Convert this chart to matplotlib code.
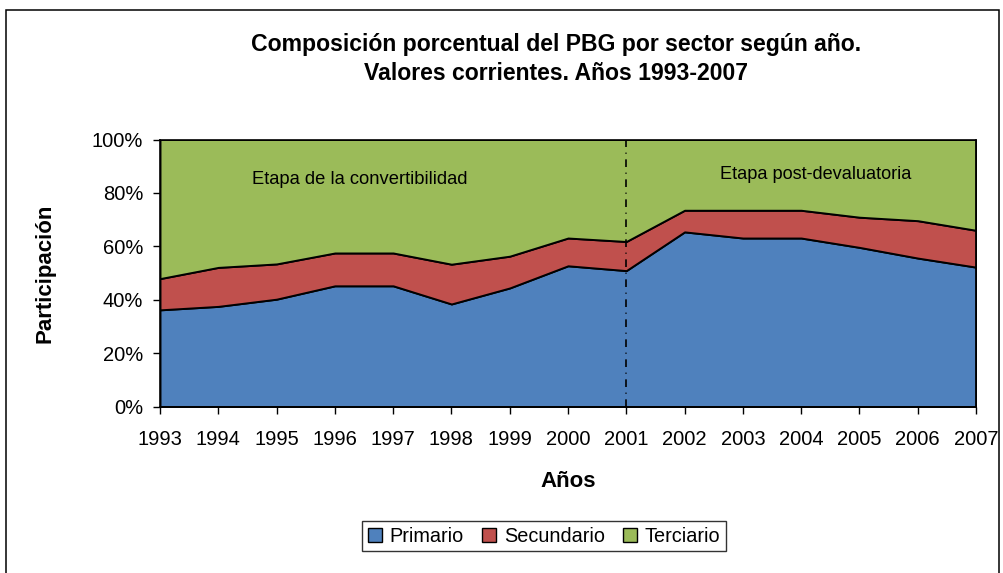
import matplotlib
matplotlib.use("Agg")
import matplotlib.pyplot as plt
from matplotlib.patches import Rectangle, Patch
from matplotlib.ticker import FuncFormatter

# values (percent of PBG)
years = [1993, 1994, 1995, 1996, 1997, 1998, 1999, 2000, 2001,
         2002, 2003, 2004, 2005, 2006, 2007]
primario = [36.2, 37.5, 40.2, 45.2, 45.2, 38.4, 44.4, 52.7, 50.9,
            65.4, 63.1, 63.1, 59.6, 55.6, 52.2]
secundario = [11.7, 14.6, 13.2, 12.3, 12.3, 14.9, 11.9, 10.4, 10.9,
              8.1, 10.4, 10.4, 11.3, 14.0, 13.8]
terciario = [round(100 - p - s, 1) for p, s in zip(primario, secundario)]

labels = ["Primario", "Secundario", "Terciario"]
colors = ["#4F81BD", "#C0504D", "#9BBB59"]

plt.rcParams['font.family'] = ['Liberation Sans', 'DejaVu Sans']

W, H = 1004, 573
fig = plt.figure(figsize=(W / 100, H / 100), dpi=100)

# outer chart border (bottom edge is cut off in the reference)
fig.patches.append(Rectangle((6 / W, -0.05), (999 - 6) / W, 1.05 - 10 / H,
                             transform=fig.transFigure, fill=False,
                             edgecolor="black", lw=1.1))

left, right, top, bottom = 160, 976, 139.5, 406.5
ax = fig.add_axes([left / W, 1 - bottom / H, (right - left) / W, (bottom - top) / H])

ax.stackplot(years, [v / 100 for v in primario], [v / 100 for v in secundario],
             [v / 100 for v in terciario], colors=colors, edgecolor="black", lw=1.4)

ax.axvline(2001, color="black", ls=(0, (4.6, 3.4, 0.6, 3.4)), lw=1.2)

ax.set_xlim(1993, 2007)
ax.set_ylim(0, 1)
ax.set_xticks(years)
ax.set_yticks([0, 0.2, 0.4, 0.6, 0.8, 1.0])
ax.yaxis.set_major_formatter(FuncFormatter(lambda v, p: f"{v * 100:.0f}%"))
ax.tick_params(axis="both", labelsize=14.5, direction="out", length=5, width=1)
ax.tick_params(axis="x", pad=12)
ax.tick_params(axis="y", pad=7)
for s in ax.spines.values():
    s.set_linewidth(1.2)

ax.text(1994.58, 0.835, "Etapa de la convertibilidad", fontsize=13.2)
ax.text(2002.6, 0.852, "Etapa post-devaluatoria", fontsize=13.1)

ax.set_xlabel("Años", fontsize=16, fontweight="bold", labelpad=16)
ax.set_ylabel("Participación", fontsize=16, fontweight="bold", labelpad=26)

fig.text(556 / W, 1 - 44 / H, "Composición porcentual del PBG por sector según año.",
         ha="center", va="center", fontsize=16.6, fontweight="bold")
fig.text(556 / W, 1 - 73 / H, "Valores corrientes. Años 1993-2007",
         ha="center", va="center", fontsize=16.6, fontweight="bold")

handles = [Patch(facecolor=c, edgecolor="black", lw=1) for c in colors]
leg = fig.legend(handles, labels, loc="center", bbox_to_anchor=(544 / W, 1 - 536 / H),
                 ncol=3, fontsize=14.3, frameon=True, fancybox=False, edgecolor="black",
                 handlelength=0.7, handleheight=0.7, handletextpad=0.4,
                 columnspacing=0.9, borderpad=0.3)
leg.get_frame().set_linewidth(1)

fig.savefig("out.png", dpi=100)
